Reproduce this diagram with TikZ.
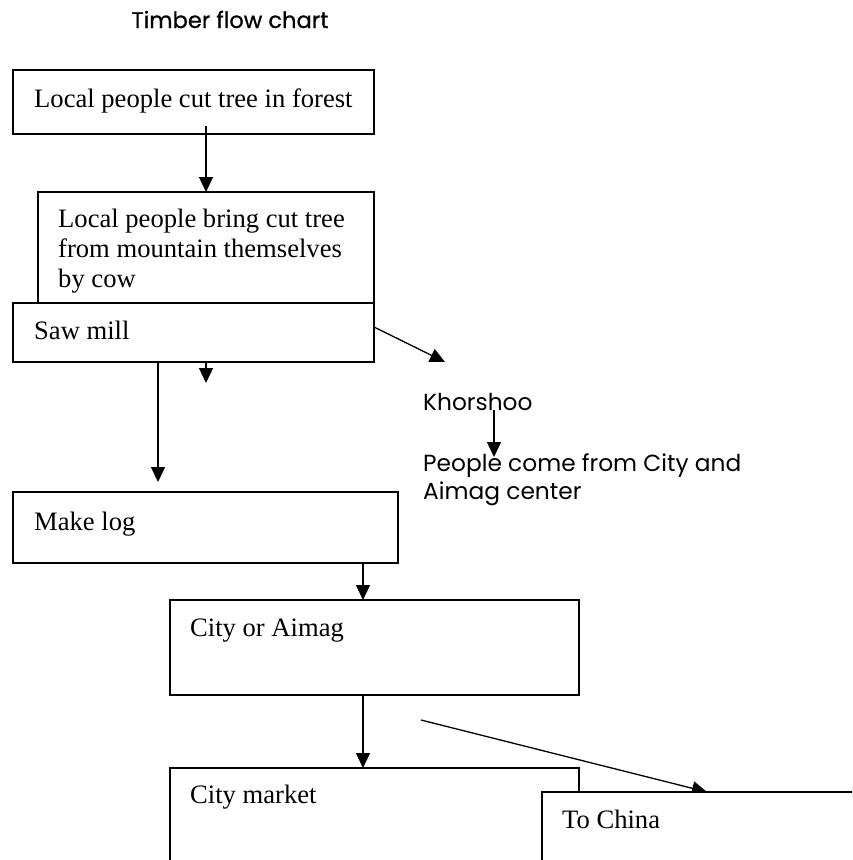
\documentclass[tikz,border=0pt]{standalone}
\usepackage{fontspec}
\setmainfont{Liberation Serif}
\newfontfamily\gothic{Poppins}
\newfontfamily\gothicbold[FakeBold=0.6]{Poppins}
\usetikzlibrary{arrows.meta}
\begin{document}
\begin{tikzpicture}[x=1pt,y=-1pt,
  box/.style={draw, line width=1.3pt, fill=white, inner sep=0pt, outer sep=0pt, anchor=north west},
  lbl/.style={inner sep=0pt, anchor=base west, font=\fontsize{26.6}{30}\selectfont},
  sans/.style={inner sep=0pt, anchor=base west, font=\gothic\fontsize{23.3}{28}\selectfont},
  arr/.style={line width=1.3pt, -{Triangle[length=15pt,width=14pt]}},
  ln/.style={line width=1.3pt}]
\clip (0,0) rectangle (852,860);
\fill[white] (0,0) rectangle (852,860);
% title
\node[inner sep=0pt, anchor=base, font=\gothicbold\fontsize{22.6}{26}\selectfont] (title) at (230,28) {Timber flow chart};
% box 1
\node[box, minimum width=361pt, minimum height=64pt] (b1) at (13,70) {};
\node[lbl] (t1) at (34,107) {Local people cut tree in forest};
\draw[arr] (206,0 |- t1.base) ++(0,19) coordinate (a1s) -- (206,192);
% box 2
\node[box, minimum width=336pt, minimum height=111pt] (b2) at (38,192) {};
\node[lbl, anchor=north west, align=left] (t2) at (58,209) {Local people bring cut tree\\from mountain themselves\\by cow};
% box 3
\node[box, minimum width=361pt, minimum height=59pt] (b3) at (13,303) {};
\node[lbl] (t3) at (34,339) {Saw mill};
\coordinate (e1) at (206,383);
\coordinate (e2) at (158,482);
\coordinate (e3) at (445,362);
\draw[arr] (e1 |- b3.south) -- (e1);
\draw[arr] (e2 |- b3.south) -- (e2);
\draw[arr] (b3.north east |- 0,327) -- (e3);
% Khorshoo
\node[sans] (kh) at (423,410) {Khorshoo};
\node[sans, anchor=north west, align=left] (pe) at (423,453) {People come from City and\\Aimag center};
\draw[arr] (494,0 |- kh.base) -- (494,457);
% make log
\node[box, minimum width=385pt, minimum height=71pt] (b4) at (13,492) {};
\node[lbl] (t4) at (34,530) {Make log};
% city or aimag
\node[box, minimum width=409pt, minimum height=95pt] (b5) at (170,600) {};
\node[lbl] (t5) at (190,636) {City or Aimag};
\draw[arr] (363,0 |- b4.south) -- (363,0 |- b5.north);
% city market
\node[box, minimum width=409pt, minimum height=130pt] (b6) at (170,768) {};
\node[lbl] (t6) at (190,803) {City market};
\draw[arr] (363,0 |- b5.south) -- (363,0 |- b6.north);
% to china
\coordinate (d1) at (421,720);
\draw[arr] (d1) -- (707,792);
\node[box, minimum width=340pt, minimum height=120pt] (b7) at (542,792) {};
\node[lbl] (t7) at (562,828) {To China};
\end{tikzpicture}
\end{document}
